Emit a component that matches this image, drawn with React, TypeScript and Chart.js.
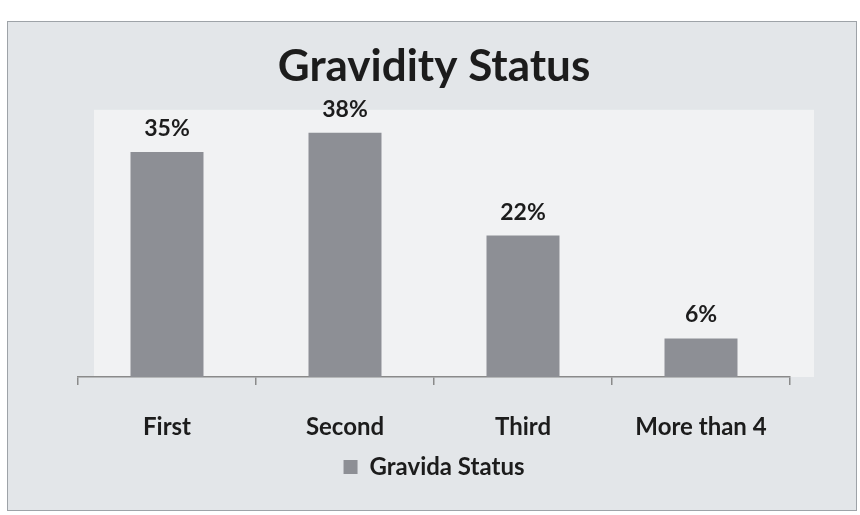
import React, { useEffect, useRef } from "react";
import { Chart, registerables } from "chart.js";

Chart.register(...registerables);

const categories: string[] = ["First", "Second", "Third", "More than 4"];
const gravidaPercent: number[] = [35, 38, 22, 6];
const seriesName = "Gravida Status";
const chartTitle = "Gravidity Status";

const FONT = "Lato, 'Open Sans', sans-serif";
const TEXT = "#1c1c1c";
const BAR = "#8d8f95";

// Light panel behind the plotting region
const plotBackground = {
  id: "plotBackground",
  beforeDraw(chart: any) {
    const { ctx, chartArea } = chart;
    ctx.save();
    ctx.fillStyle = "#f1f2f3";
    ctx.fillRect(chartArea.left + 16, chartArea.top - 10, chartArea.right - chartArea.left + 8, chartArea.bottom - chartArea.top + 10);
    ctx.restore();
  },
};

// Percentage printed above each bar
const valueLabels = {
  id: "valueLabels",
  afterDatasetsDraw(chart: any) {
    const { ctx } = chart;
    const meta = chart.getDatasetMeta(0);
    const data = chart.data.datasets[0].data as number[];
    ctx.save();
    ctx.font = `bold 23px ${FONT}`;
    ctx.fillStyle = TEXT;
    ctx.textAlign = "center";
    ctx.textBaseline = "alphabetic";
    meta.data.forEach((bar: any, i: number) => {
      ctx.fillText(`${data[i]}%`, bar.x, bar.y - 16);
    });
    ctx.restore();
  },
};

export default function App() {
  const canvasRef = useRef<HTMLCanvasElement | null>(null);

  useEffect(() => {
    if (!canvasRef.current) return;
    const chart = new Chart(canvasRef.current, {
      type: "bar",
      data: {
        labels: categories,
        datasets: [
          {
            label: seriesName,
            data: gravidaPercent,
            backgroundColor: BAR,
            borderWidth: 0,
            barPercentage: 0.41,
            categoryPercentage: 1,
          },
        ],
      },
      options: {
        animation: false,
        responsive: false,
        layout: { padding: { left: 78, right: 70, top: 0, bottom: 26 } },
        scales: {
          x: {
            offset: true,
            afterFit(scale: any) {
              scale.height = 66;
            },
            grid: {
              offset: true,
              drawOnChartArea: false,
              drawTicks: true,
              tickLength: 8,
              color: "#8a8a8a",
              lineWidth: 1.5,
            },
            border: { display: true, color: "#8a8a8a", width: 1.5 },
            ticks: {
              color: TEXT,
              padding: 28,
              maxRotation: 0,
              font: { family: FONT, size: 24, weight: "bold" },
            },
          },
          y: {
            display: false,
            min: 0,
            max: 40,
          },
        },
        plugins: {
          title: {
            display: true,
            text: chartTitle,
            color: TEXT,
            font: { family: FONT, size: 44, weight: "bold" },
            padding: { top: 40, bottom: 27 },
          },
          legend: {
            display: true,
            position: "bottom",
            labels: {
              color: TEXT,
              boxWidth: 14,
              boxHeight: 14,
              padding: 12,
              font: { family: FONT, size: 24, weight: "bold" },
            },
          },
          tooltip: { enabled: false },
        },
      },
      plugins: [plotBackground, valueLabels],
    });
    return () => chart.destroy();
  }, []);

  return (
    <div style={{ position: "absolute", left: 0, top: 0, width: 860, height: 515, background: "#ffffff" }}>
      <div
        style={{
          position: "absolute",
          left: 7,
          top: 21,
          width: 848,
          height: 488,
          border: "1.5px solid #9ea3a8",
          background: "#e3e6e9",
        }}
      />
      <canvas ref={canvasRef} width={860} height={515} style={{ position: "absolute", left: 0, top: 0 }} />
    </div>
  );
}
